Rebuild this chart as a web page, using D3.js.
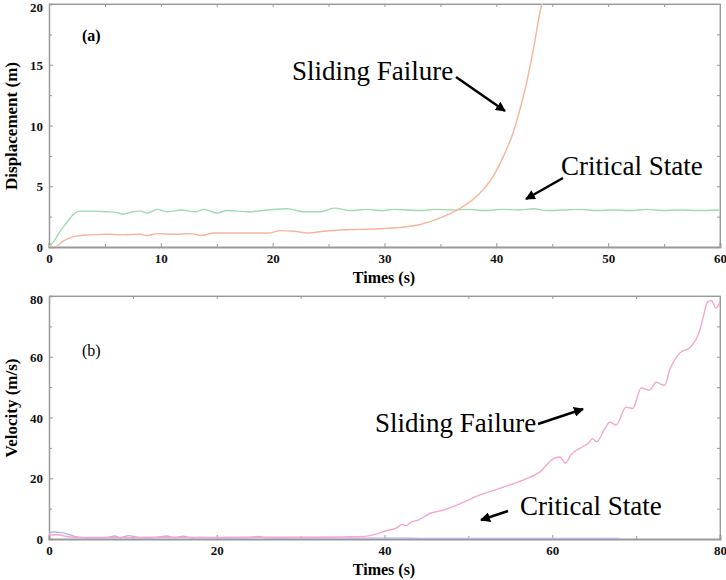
<!DOCTYPE html>
<html lang="en">
<head>
<meta charset="utf-8">
<title>displacement and velocity</title>
<script src="https://cdn.jsdelivr.net/npm/d3@7/dist/d3.min.js"></script>
<style>
  body{margin:0;background:#fff;}
  svg text{font-family:"Liberation Serif","DejaVu Serif",serif;}
  .axis path,.axis line{stroke:#999;}
  .axis text{font-family:"Liberation Serif","DejaVu Serif",serif;font-weight:bold;font-size:13px;fill:#111;}
</style>
</head>
<body>
<div id="chart"></div>
<script>
// panel (a) displacement, [time s, displacement m]
var dispCritical = [[0,0],[0.5,0.55],[1,1.3],[1.5,1.9],[2.2,2.7],[2.8,2.95],[4,2.95],[5.1,2.9],[6,2.85],[6.6,2.7],[7.5,2.9],[8.2,2.95],[8.8,2.8],[9.7,3.1],[10.6,2.9],[11.8,3.05],[13,2.9],[13.9,3.1],[15,2.8],[15.9,3.0],[17.8,2.9],[19.6,3.05],[21.3,3.15],[22.8,2.9],[24.3,2.9],[25.5,3.2],[27,3.0],[28.5,3.1],[29.7,3.0],[30.9,3.1],[32.1,3.05],[33.3,3.0],[34.5,3.1],[36,3.05],[37.5,3.1],[39,3.0],[40.5,3.1],[42,3.05],[43.3,3.15],[44.5,3.0],[46,3.05],[47.5,3.1],[49,3.0],[50.5,3.05],[52,3.0],[53.5,3.1],[55,3.0],[56.5,3.05],[58,3.0],[60,3.05]]
var dispSliding = [[0,0],[0.5,0],[1.3,0.5],[2.2,0.85],[3.7,1.0],[5.1,1.05],[6.6,1.0],[8.1,1.05],[8.8,0.95],[9.7,1.1],[11.2,1.05],[12.7,1.1],[13.6,0.95],[14.8,1.15],[17.2,1.15],[19.6,1.15],[20.7,1.35],[21.9,1.3],[23.1,1.15],[24.6,1.3],[26.1,1.4],[27.9,1.45],[29.7,1.5],[31.4,1.6],[33.2,1.85],[35,2.4],[36.8,3.2],[38.5,4.4],[39.7,5.8],[40.6,7.4],[41.5,9.4],[42.1,11.3],[42.7,13.5],[43.3,16.2],[43.9,19.3],[44.3,20.8]]

// panel (b) velocity, [time s, velocity m/s]
var velSliding = [[0,1.3],[1,1.4],[2,0.9],[3,0.6],[5,0.5],[10,0.5],[15,0.6],[20,0.5],[25,0.6],[30,0.6],[35,0.7],[37.4,0.8],[39,1.6],[40.3,2.8],[41.4,3.6],[42.1,4.8],[42.6,4.4],[43.2,5.6],[44,6.2],[45.4,8.4],[47,9.5],[48,10.5],[49.3,12.0],[51.4,14.5],[54.1,17],[56.5,19.4],[58.5,22],[60.1,26.4],[60.9,27],[61.6,25],[62.2,27.6],[63.6,30.3],[64.3,31.5],[64.8,33],[65.3,32],[66.2,36],[66.9,38.5],[67.6,37.5],[68.8,43.4],[69.6,43],[70.6,49.7],[71.6,49],[72.4,51.6],[73.4,50.6],[74,55.6],[75.2,61.2],[76.5,63.2],[77.6,68.8],[78,73],[78.5,78],[79,78.5],[79.5,76],[80,78]]
var velCritical = [[0,1.8],[0.5,2.3],[1.5,2.1],[2.5,1.4],[3.4,0.6],[5,0.3],[7,0.5],[7.8,1.0],[8.5,0.4],[9.5,1.1],[10.5,0.6],[11.5,0.2],[13,0.6],[14,1.0],[15,0.4],[16,0.9],[17,0.3],[18,0.5],[20,0.4],[22,0.3],[24,0.5],[25,0.8],[26,0.3],[30,0.4],[35,0.3],[40,0.3],[45,0.2],[55,0.2],[68,0.2]]

// ticks
var dispXTicks = [0,10,20,30,40,50,60]
var dispXMinor = [5,15,25,35,45,55]
var dispYTicks = [0,5,10,15,20]
var dispYMinor = [2.5,7.5,12.5,17.5]
var velXTicks = [0,20,40,60,80]
var velXMinor = [10,30,50,70]
var velYTicks = [0,20,40,60,80]
var velYMinor = [10,30,50,70]

var w = 726, h = 580
var svg = d3.select("#chart").append("svg").attr("width",w).attr("height",h)

svg.append("defs").append("marker")
    .attr("id","head").attr("viewBox","0 0 10 10")
    .attr("refX",9).attr("refY",5)
    .attr("markerWidth",4).attr("markerHeight",4)
    .attr("markerUnits","strokeWidth")
    .attr("orient","auto")
  .append("path").attr("d","M0,0L10,5L0,10z").attr("fill","#000")

var serif = "'Liberation Serif','DejaVu Serif',serif"

//draws one panel: frame, ticks on all four sides, labels and lines
function drawPanel(p){
    var x = d3.scaleLinear().domain(p.xDomain).range([49,720])
    var y = d3.scaleLinear().domain(p.yDomain).range([p.bottom,p.top])
    var g = svg.append("g").attr("font-family",serif)
    var clipId = "clip"+p.name
    svg.select("defs").append("clipPath").attr("id",clipId)
        .append("rect").attr("x",49).attr("y",p.top).attr("width",671).attr("height",p.bottom-p.top)

    //light frame on top and right
    g.append("path")
        .attr("d","M49,"+p.top+"H720V"+p.bottom)
        .attr("fill","none").attr("stroke","#c4c4c4").attr("stroke-width",1.5)

    //minor ticks everywhere, no labels
    g.append("g").attr("class","axis").attr("transform","translate(0,"+p.bottom+")")
        .call(d3.axisBottom(x).tickValues(p.xMinor).tickSize(-3).tickFormat(""))
    g.append("g").attr("class","axis").attr("transform","translate(0,"+p.top+")")
        .call(d3.axisTop(x).tickValues(p.xTicks.concat(p.xMinor)).tickSize(-3).tickFormat(""))
    g.append("g").attr("class","axis").attr("transform","translate(49,0)")
        .call(d3.axisLeft(y).tickValues(p.yMinor).tickSize(-3).tickFormat(""))
    g.append("g").attr("class","axis").attr("transform","translate(720,0)")
        .call(d3.axisRight(y).tickValues(p.yTicks.concat(p.yMinor)).tickSize(-3).tickFormat(""))
    g.selectAll(".axis path").attr("stroke","#c4c4c4")

    //main axes with labels
    var xa = g.append("g").attr("class","axis").attr("transform","translate(0,"+p.bottom+")")
        .call(d3.axisBottom(x).tickValues(p.xTicks).tickSize(-4).tickPadding(7).tickFormat(d3.format("d")))
    var ya = g.append("g").attr("class","axis").attr("transform","translate(49,0)")
        .call(d3.axisLeft(y).tickValues(p.yTicks).tickSize(-4).tickPadding(6).tickFormat(d3.format("d")))
    xa.select(".domain").attr("stroke","#8c8c8c").attr("stroke-width",2)
    ya.select(".domain").attr("stroke","#b0b0b0").attr("stroke-width",1.5)
    ya.selectAll(".tick text").attr("dy","0.35em")
        .filter(function(d){return d==p.yDomain[1]}).attr("dy","0.6em")

    var line = d3.line().x(function(d){return x(d[0])}).y(function(d){return y(d[1])}).curve(d3.curveMonotoneX)
    p.series.forEach(function(s){
        g.append("path").datum(s.data)
            .attr("clip-path","url(#"+clipId+")")
            .attr("fill","none").attr("stroke",s.color).attr("stroke-width",1.4)
            .attr("d",line)
    })

    g.append("text").attr("x",384).attr("y",p.bottom+36).attr("font-family",serif)
        .attr("text-anchor","middle").attr("font-weight","bold").attr("font-size",16)
        .text("Times (s)")
    g.append("text").attr("transform","translate(17,"+p.yMid+") rotate(-90)").attr("font-family",serif)
        .attr("text-anchor","middle").attr("font-weight","bold").attr("font-size",17)
        .text(p.yLabel)
    g.append("text").attr("x",82).attr("y",p.top+p.tagDy).attr("font-family",serif)
        .attr("font-weight",p.tagWeight).attr("font-size",16)
        .text(p.tag)

    p.notes.forEach(function(n){
        g.append("text").attr("x",n.x).attr("y",n.y).attr("font-family",serif)
            .attr("font-size",27).text(n.text)
        g.append("line").attr("x1",n.a[0]).attr("y1",n.a[1]).attr("x2",n.a[2]).attr("y2",n.a[3])
            .attr("stroke","#000").attr("stroke-width",2.5).attr("marker-end","url(#head)")
    })
}

drawPanel({
    name:"a", top:4, bottom:247, yMid:126,
    xDomain:[0,60], yDomain:[0,20],
    xTicks:dispXTicks, xMinor:dispXMinor, yTicks:dispYTicks, yMinor:dispYMinor,
    yLabel:"Displacement (m)", tag:"(a)", tagWeight:"bold", tagDy:37,
    series:[{data:dispCritical,color:"#9edcae"},{data:dispSliding,color:"#f6b49c"}],
    notes:[
        {text:"Sliding Failure", x:292, y:80, a:[456,77,505,111]},
        {text:"Critical State", x:561, y:175, a:[563,178,526,199]}
    ]
})

drawPanel({
    name:"b", top:296, bottom:539, yMid:408,
    xDomain:[0,80], yDomain:[0,80],
    xTicks:velXTicks, xMinor:velXMinor, yTicks:velYTicks, yMinor:velYMinor,
    yLabel:"Velocity (m/s)", tag:"(b)", tagWeight:"normal", tagDy:60,
    series:[{data:velCritical,color:"#b4b4f2"},{data:velSliding,color:"#f4a6d2"}],
    notes:[
        {text:"Sliding Failure", x:375, y:432, a:[538,424,583,409]},
        {text:"Critical State", x:520, y:515, a:[508,511,481,520]}
    ]
})
</script>
</body>
</html>
